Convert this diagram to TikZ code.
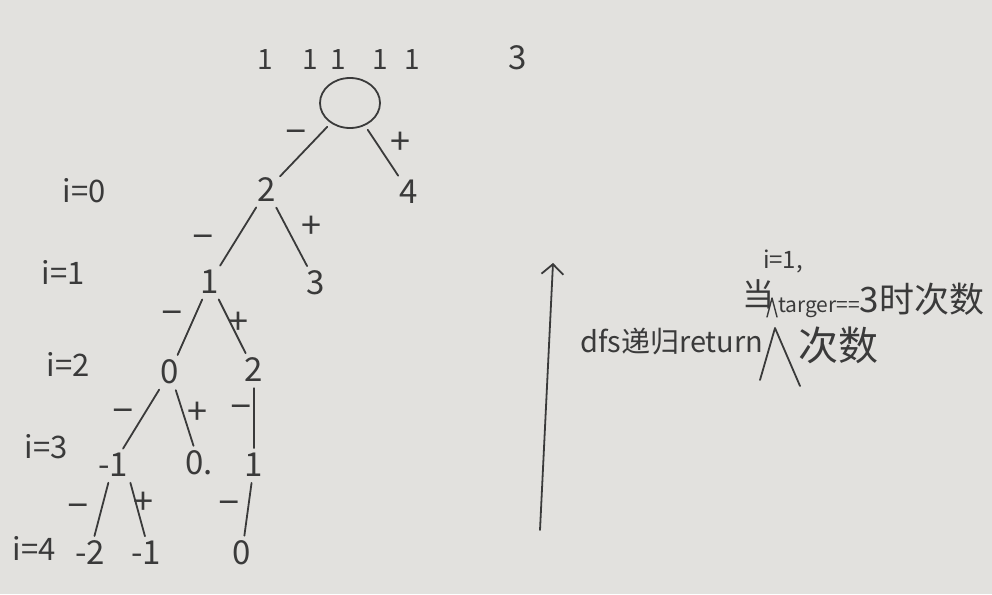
\documentclass[tikz,border=0pt]{standalone}
\usepackage{fontspec}
\setmainfont{Noto Sans CJK SC}
\usetikzlibrary{shapes.geometric,arrows.meta}
\definecolor{paper}{RGB}{226,225,222}
\definecolor{ink}{RGB}{58,58,58}
\newcommand{\fsz}[1]{\fontsize{#1}{#1}\selectfont}
\tikzset{
 num/.style={text=ink, font=\fsz{33}, inner sep=1pt},
 lvl/.style={text=ink, font=\fsz{31}, inner sep=1pt},
 sgn/.style={text=ink, font=\fsz{40}, inner sep=0pt},
 pls/.style={text=ink, font=\fsz{36}, inner sep=0pt},
 br/.style={draw=ink, line width=1.8pt, line cap=round, shorten <=5pt, shorten >=4pt},
 rootnode/.style={ellipse, draw=ink, line width=1.8pt, minimum width=60pt, minimum height=50pt, inner sep=0pt},
 note/.style={text=ink, inner sep=0pt},
 pen/.style={draw=ink, line width=1.8pt, line cap=round, line join=round},
}
\begin{document}
\begin{tikzpicture}[x=1pt,y=-1pt]
\fill[paper] (0,0) rectangle (992,594);
\useasboundingbox (0,0) rectangle (992,594);
% array and target
\foreach \x/\k in {265/a,310/b,338/c,380/d,412/e}
  \node[num, font=\fsz{28}] (one\k) at (\x,60) {1};
\node[num] (tgt3) at (518,58) {3};
% tree nodes
\node[rootnode] (root) at (350,103) {};
\node[num] (n2) at (267,190) {2};
\node[num] (n4) at (409,192) {4};
\node[num] (n1) at (210,282) {1};
\node[num] (n3) at (316,283) {3};
\node[num] (n0) at (170,372) {0};
\node[num] (n2b) at (254,370) {2};
\node[num] (nm1) at (113,465) {-1};
\node[num] (n0b) at (199,463) {0.};
\node[num] (n1b) at (254,465) {1};
\node[num] (nm2) at (90,553) {-2};
\node[num] (nm1b) at (146,553) {-1};
\node[num] (n0c) at (242,553) {0};
% level labels
\node[lvl] (l0) at (84,191) {i=0};
\node[lvl] (l1) at (63,272) {i=1};
\node[lvl] (l2) at (68,364) {i=2};
\node[lvl] (l3) at (46,447) {i=3};
\node[lvl] (l4) at (34,548) {i=4};
% branches
\draw[br] (root) -- (n2);
\draw[br] (root) -- (n4);
\draw[br] (n2) -- (n1);
\draw[br] (n2) -- (n3);
\draw[br] (n1) -- (n0);
\draw[br] (n1) -- (n2b);
\draw[br] (n0) -- (nm1);
\draw[br] (n0) -- (n0b);
\draw[br] (n2b) -- (n1b);
\draw[br] (nm1) -- (nm2);
\draw[br] (nm1.south east) -- (nm1b.north);
\draw[br] (n1b) -- (n0c);
% signs
\node[sgn] (s1) at (296,136) {–};
\node[pls] (s2) at (400,143) {+};
\node[sgn] (s3) at (203,241) {–};
\node[pls] (s4) at (311,227) {+};
\node[sgn] (s5) at (172,317) {–};
\node[pls] (s6) at (238,323) {+};
\node[sgn] (s7) at (123,415) {–};
\node[pls] (s8) at (197,413) {+};
\node[sgn] (s9) at (241,411) {–};
\node[sgn] (s10) at (78,510) {–};
\node[pls] (s11) at (143,503) {+};
\node[sgn] (s12) at (229,507) {–};
% arrow
\coordinate (abot) at (540,530);
\coordinate (atop) at (553,263);
\draw[pen, -{Straight Barb[length=10pt,width=22pt]}] (abot) -- (atop);
% notes
\node[note, font=\fsz{29}, anchor=base west] (dfs) at (580,352) {dfs递归return};
\draw[pen] (760,380) -- (775,328) -- (800,386);
\node[note, font=\fsz{40}] (cishu) at (838,345) {次数};
\node[note, font=\fsz{24}] (i1) at (783,261) {i=1,};
\node[note, font=\fsz{32}] (dang) at (758,294) {当};
\draw[pen, line width=1.4pt] (767,317) -- (772,298) -- (777,317);
\node[note, anchor=base west] (tgtx) at (778,312) {\fsz{21}targer==\fsz{35}3时次数};
\end{tikzpicture}
\end{document}
